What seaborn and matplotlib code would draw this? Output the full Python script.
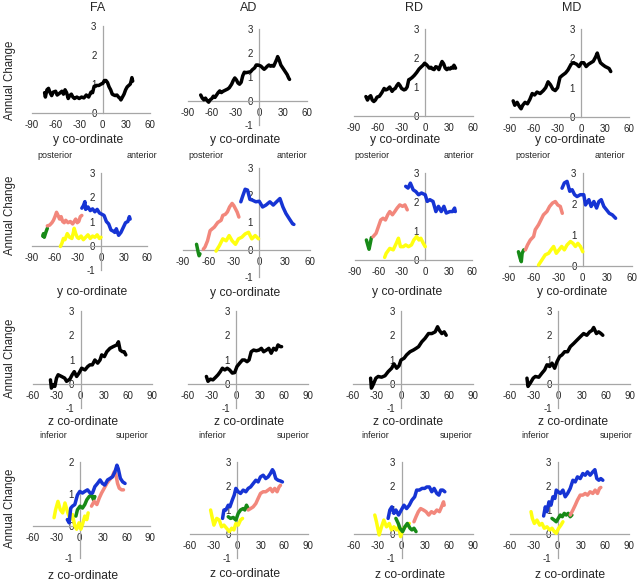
import matplotlib
matplotlib.use("Agg")
import matplotlib.pyplot as plt
import seaborn as sns

# ---- data (x = co-ordinate, y = annual change) ----
# row 1: y co-ordinate, whole tract (black)
r1_fa_x = [-74, -73, -71, -69, -67, -65, -63, -60, -58, -55, -52, -50, -48, -46, -44, -42, -40, -38, -36, -33,
           -30, -27, -24, -21, -18, -15, -13, -11, -8, -5, -2, 0, 2, 4, 6, 8, 10, 12, 14, 16, 18, 20, 22, 23, 25,
           27, 29, 31, 33, 35, 36, 37, 38]
r1_fa_y = [0.7, 0.55, 0.8, 0.85, 0.7, 0.6, 0.72, 0.75, 0.62, 0.68, 0.75, 0.65, 0.8, 0.7, 0.5, 0.6, 0.65, 0.55, 0.5,
           0.55, 0.5, 0.55, 0.52, 0.62, 0.55, 0.72, 0.7, 0.92, 0.95, 0.95, 1.0, 1.02, 1.12, 1.12, 1.05, 0.9, 0.8,
           0.65, 0.62, 0.6, 0.62, 0.55, 0.5, 0.45, 0.55, 0.65, 0.8, 0.9, 0.95, 1.0, 1.1, 1.22, 1.1]
r1_ad_x = [-74, -72, -70, -68, -66, -64, -62, -60, -58, -56, -54, -52, -50, -48, -46, -43, -40, -38, -35, -33, -31,
           -29, -27, -25, -23, -21, -19, -17, -14, -11, -9, -6, -4, -2, 0, 2, 4, 6, 8, 10, 12, 14, 16, 18, 20, 22,
           23, 25, 27, 29, 31, 33, 35, 37, 38]
r1_ad_y = [0.25, 0.12, 0.05, 0.12, 0.02, -0.05, 0.05, 0.1, 0.2, 0.15, 0.25, 0.35, 0.42, 0.35, 0.4, 0.45, 0.5, 0.55,
           0.7, 0.85, 0.96, 0.88, 0.75, 0.7, 0.78, 1.05, 1.2, 1.18, 1.2, 1.22, 1.3, 1.38, 1.5, 1.5, 1.48, 1.45,
           1.38, 1.32, 1.38, 1.45, 1.5, 1.45, 1.48, 1.45, 1.6, 1.75, 1.85, 1.7, 1.5, 1.4, 1.3, 1.2, 1.1, 0.95, 0.9]
r1_rd_x = [-75, -73, -71, -69, -67, -65, -63, -61, -58, -55, -52, -50, -48, -45, -42, -40, -38, -36, -34, -32, -30,
           -27, -25, -23, -21, -19, -17, -14, -11, -8, -5, -3, -1, 1, 3, 5, 7, 9, 11, 13, 15, 17, 19, 21, 23, 25,
           27, 29, 31, 33, 35, 36, 38]
r1_rd_y = [0.67, 0.55, 0.65, 0.7, 0.55, 0.5, 0.55, 0.65, 0.68, 0.8, 0.95, 0.9, 0.92, 1.0, 0.85, 0.92, 0.95, 1.05,
           1.12, 1.05, 0.95, 0.9, 0.92, 1.0, 1.25, 1.28, 1.32, 1.4, 1.5, 1.62, 1.7, 1.75, 1.82, 1.78, 1.72, 1.65,
           1.68, 1.62, 1.6, 1.7, 1.68, 1.6, 1.75, 1.88, 1.8, 1.65, 1.6, 1.65, 1.62, 1.68, 1.65, 1.75, 1.65]
r1_md_x = [-86, -84, -81, -78, -76, -74, -71, -68, -65, -62, -59, -56, -52, -48, -45, -42, -39, -36, -33, -30, -27,
           -24, -20, -17, -13, -10, -6, -3, 0, 3, 6, 9, 12, 15, 18, 20, 22, 24, 27, 30, 33, 35, 37]
r1_md_y = [0.55, 0.4, 0.5, 0.35, 0.28, 0.4, 0.5, 0.45, 0.6, 0.8, 0.75, 0.85, 0.8, 0.9, 1.0, 1.2, 1.1, 0.95, 0.9,
           1.0, 1.35, 1.42, 1.5, 1.6, 1.8, 1.85, 1.8, 1.72, 1.85, 1.85, 1.72, 1.8, 1.85, 1.9, 2.05, 2.18, 2.0,
           1.85, 1.78, 1.72, 1.68, 1.65, 1.55]

# row 2: y co-ordinate, by segment (green, pink, yellow, blue)
r2_fa_green_x = [-76, -75, -74, -72, -70]
r2_fa_green_y = [0.4, 0.5, 0.35, 0.55, 0.72]
r2_fa_pink_x = [-70, -67, -64, -62, -60, -58, -56, -54, -52, -50, -48, -46, -43, -40, -37, -35, -33, -31, -29, -27, -25]
r2_fa_pink_y = [0.82, 0.85, 0.95, 1.05, 1.2, 1.38, 1.25, 1.1, 1.2, 1.0, 0.95, 1.05, 0.95, 1.0, 0.9, 1.0, 1.1, 0.95,
                1.0, 1.2, 1.25]
r2_fa_yellow_x = [-53, -51, -49, -47, -44, -41, -38, -36, -35, -33, -31, -29, -26, -23, -20, -17, -14, -11, -8, -5, -2, 0]
r2_fa_yellow_y = [-0.03, 0.1, 0.3, 0.25, 0.5, 0.35, 0.3, 0.55, 0.72, 0.5, 0.35, 0.3, 0.4, 0.25, 0.35, 0.45, 0.3,
                  0.4, 0.35, 0.45, 0.3, 0.35]
r2_fa_blue_x = [-25, -23, -21, -20, -17, -14, -11, -8, -5, -2, 1, 4, 7, 10, 13, 16, 18, 20, 23, 26, 29, 32, 35, 37, 38]
r2_fa_blue_y = [1.55, 1.65, 1.82, 1.5, 1.6, 1.45, 1.52, 1.4, 1.5, 1.35, 1.3, 1.25, 1.0, 0.9, 0.65, 0.6, 0.55, 0.7,
                0.43, 0.55, 0.75, 0.95, 1.0, 1.2, 1.1]

r2_ad_green_x = [-74, -73, -72, -71, -70]
r2_ad_green_y = [0.2, 0.05, -0.1, -0.22, -0.15]
r2_ad_pink_x = [-66, -64, -61, -58, -55, -53, -49, -45, -43, -40, -37.5, -35, -32, -30, -28, -26, -24]
r2_ad_pink_y = [0.02, 0.1, 0.33, 0.7, 0.78, 0.83, 1.0, 1.08, 1.26, 1.3, 1.39, 1.57, 1.7, 1.62, 1.5, 1.38, 1.2]
r2_ad_yellow_x = [-51, -47, -43, -39, -35.5, -32, -28, -24.5, -20.5, -16.6, -12.6, -8.7, -4.7, -0.8]
r2_ad_yellow_y = [-0.05, 0.15, 0.4, 0.33, 0.52, 0.33, 0.2, 0.4, 0.46, 0.58, 0.64, 0.4, 0.52, 0.4]
r2_ad_blue_x = [-21.7, -19.7, -16.6, -13.8, -11, -8, -4, 0, 4, 8, 12.6, 16.6, 20.5, 24.5, 28, 31.6, 35.5, 39.5, 41]
r2_ad_blue_y = [1.76, 1.95, 2.22, 2.19, 1.85, 1.82, 1.76, 1.78, 1.57, 1.64, 1.76, 1.64, 1.76, 1.88, 1.57, 1.33,
                1.14, 0.95, 0.93]

r2_rd_green_x = [-75.4, -73, -72, -70, -69]
r2_rd_green_y = [0.69, 0.46, 0.37, 0.63, 0.77]
r2_rd_pink_x = [-67, -63, -60, -57, -54, -51, -48, -45.4, -42, -39, -36, -32.6, -29, -26, -23]
r2_rd_pink_y = [0.8, 0.92, 1.15, 1.38, 1.44, 1.38, 1.56, 1.67, 1.56, 1.67, 1.79, 1.9, 1.85, 1.9, 1.73]
r2_rd_yellow_x = [-52, -50, -45.4, -41, -37, -34.3, -31.7, -28, -25, -21.4, -17.6, -14.6, -11, -8, -5.6, -2.6, 0]
r2_rd_yellow_y = [0.09, 0.23, 0.4, 0.35, 0.58, 0.75, 0.46, 0.46, 0.52, 0.46, 0.52, 0.69, 0.81, 0.69, 0.75, 0.58, 0.46]
r2_rd_blue_x = [-25, -22, -19, -15.4, -12, -8.6, -4.7, 0, 2.6, 6, 10, 13.7, 17, 20.6, 24, 27, 31.7, 35, 37.7, 38.6]
r2_rd_blue_y = [2.54, 2.48, 2.65, 2.42, 2.36, 2.25, 2.31, 2.25, 2.02, 2.08, 2.02, 1.67, 1.85, 1.67, 1.85, 1.62,
                1.67, 1.67, 1.79, 1.67]

r2_md_green_x = [-78.5, -76.4, -75, -74, -72]
r2_md_green_y = [0.46, 0.25, 0.14, 0.41, 0.52]
r2_md_pink_x = [-70, -67.4, -64, -60, -58, -54, -51, -48, -43.7, -40.5, -37, -33.5, -30.6, -27.4, -25]
r2_md_pink_y = [0.52, 0.68, 0.84, 0.95, 1.17, 1.33, 1.49, 1.65, 1.76, 1.92, 2.03, 2.08, 1.97, 1.92, 1.7]
r2_md_yellow_x = [-54, -50, -45.8, -41.7, -38.8, -35.6, -32.3, -29, -25.7, -22.5, -19.2, -15, -11.9, -9, -6, -2.9, 0]
r2_md_yellow_y = [0.03, 0.19, 0.36, 0.41, 0.52, 0.63, 0.41, 0.52, 0.63, 0.52, 0.68, 0.79, 0.73, 0.63, 0.73, 0.63, 0.46]
r2_md_blue_x = [-25.3, -22.5, -19.2, -15.9, -13, -10, -7, -3, 1.2, 3.3, 7.4, 10.2, 13.5, 16.8, 19.6, 22.5, 25.7,
                29, 32.3, 36, 40]
r2_md_blue_y = [2.51, 2.68, 2.73, 2.41, 2.46, 2.3, 2.24, 2.3, 2.3, 1.97, 2.14, 1.92, 2.08, 1.87, 2.08, 2.14, 1.92,
                1.81, 1.7, 1.65, 1.54]

# row 3: z co-ordinate, whole tract (black)
r3_fa_x = [-38, -36.8, -34.6, -32.5, -30.4, -28.3, -24, -20, -17.7, -13.5, -10.6, -8, -5, -2, 1.3, 5.5, 9, 11.8,
           14.8, 18, 21.5, 24.5, 26.6, 30, 33, 37, 41, 45.6, 47.7, 49.8, 52.8, 55, 57]
r3_fa_y = [0.16, -0.18, -0.04, -0.11, 0.23, 0.37, 0.3, 0.23, 0.1, 0.19, 0.37, 0.5, 0.3, 0.44, 0.64, 0.57, 0.71,
           0.78, 0.78, 0.98, 0.85, 0.98, 1.19, 1.12, 1.32, 1.46, 1.53, 1.6, 1.73, 1.39, 1.32, 1.32, 1.19]
r3_ad_x = [-37, -35, -32, -28.8, -25.4, -22.5, -19.6, -17, -14, -11, -8, -4.6, -1.7, 1.2, 4.6, 8, 10.8, 13.8, 16.3,
           19, 22, 25.4, 28.8, 31.7, 34.6, 38, 41, 44, 47, 50, 52.5, 55.4, 57]
r3_ad_y = [0.3, 0.1, 0.19, 0.16, 0.27, 0.37, 0.5, 0.64, 0.57, 0.64, 0.57, 0.44, 0.46, 0.71, 0.85, 0.98, 0.98, 0.91,
           0.98, 1.32, 1.39, 1.36, 1.39, 1.46, 1.32, 1.39, 1.46, 1.26, 1.46, 1.39, 1.6, 1.53, 1.53]
r3_rd_x = [-38, -37, -34.8, -31.4, -28.5, -24.3, -20, -16, -11.7, -8.8, -5.4, -2.5, 0, 3.8, 7, 11.3, 15.5, 18.9,
           22, 26, 30, 34.4, 38.5, 42.7, 45.7, 48, 51, 54, 56.5]
r3_rd_y = [0.23, -0.18, -0.04, 0.23, 0.3, 0.27, 0.33, 0.5, 0.64, 0.82, 0.64, 0.74, 0.98, 1.05, 1.19, 1.32, 1.39,
           1.46, 1.53, 1.73, 1.87, 2.07, 2.07, 2.14, 2.35, 2.2, 2.07, 2.14, 2.0]
r3_md_x = [-38.8, -37.5, -34.6, -31, -28.3, -24, -20, -16.7, -13.8, -10.4, -7.5, -4.2, -1.25, 2, 5, 8.3, 12, 15.4,
           19.6, 23.75, 28, 32, 36, 39.6, 42.5, 44.6, 48, 50.8, 53.75, 56]
r3_md_y = [0.23, -0.11, 0.03, 0.23, 0.3, 0.27, 0.44, 0.57, 0.78, 0.71, 0.85, 0.64, 0.91, 1.12, 1.19, 1.32, 1.32,
           1.53, 1.66, 1.8, 1.94, 2.07, 2.0, 2.14, 2.2, 2.32, 2.07, 2.14, 2.07, 2.0]

# row 4: z co-ordinate, by segment (yellow, green, pink, blue)
r4_fa_yellow_x = [-33, -31, -28, -25, -22, -19, -16, -12.4, -9.4, -6.4, -4, -1, 1.3, 3.4, 6.4, 9, 10.7]
r4_fa_yellow_y = [0.26, 0.51, 0.77, 0.51, 0.41, 0.72, 0.46, 0.2, 0.36, 0.0, -0.1, 0.1, -0.1, 0.05, 0.31, 0.2, 0.41]
r4_fa_green_x = [-5, -3, 0.4, 3.4, 6.4, 9, 12, 15, 17.6, 19.3]
r4_fa_green_y = [0.31, 0.51, 0.62, 0.56, 0.67, 0.82, 0.92, 0.97, 0.82, 0.92]
r4_fa_pink_x = [15, 18.4, 21.9, 24.9, 27.9, 31.3, 34.7, 38, 41.6, 44, 46, 48.4, 50.6, 53.6, 56]
r4_fa_pink_y = [0.62, 0.77, 0.67, 0.87, 1.03, 1.18, 1.33, 1.44, 1.54, 1.69, 1.64, 1.33, 1.18, 1.13, 1.13]
r4_fa_blue_x = [-16, -13.7, -11.6, -9.4, -6.4, -3, 0, 3.4, 6.4, 9.9, 13.3, 16.3, 19.3, 22.7, 26, 29, 32, 35.6, 39,
                42, 45, 47.6, 49.3, 52, 55, 58]
r4_fa_blue_y = [0.2, 0.1, 0.56, 0.62, 0.67, 0.97, 1.08, 1.03, 1.08, 1.13, 1.03, 1.03, 1.23, 1.33, 1.44, 1.33, 1.28,
                1.44, 1.49, 1.54, 1.69, 1.9, 1.79, 1.49, 1.38, 1.33]

r4_ad_yellow_x = [-33.8, -32, -29.6, -26, -22.8, -19.9, -16.9, -13.5, -10, -7, -4.2, -1.7, 1.3, 4.2, 6.8]
r4_ad_yellow_y = [1.0, 0.72, 0.37, 0.65, 0.58, 0.3, 0.37, 0.24, 0.1, 0.24, 0.17, 0.44, 0.37, 0.58, 0.65]
r4_ad_green_x = [-11.4, -8.5, -5, -1.7, 1.3, 4.2, 7.6, 9.7, 11.8, 14]
r4_ad_green_y = [0.72, 0.65, 0.69, 0.58, 0.86, 1.0, 1.06, 1.0, 1.2, 1.06]
r4_ad_pink_x = [14, 17, 20.3, 23.7, 26.6, 29.6, 33, 36.3, 39.3, 42.2, 44.8, 47.7, 50.7, 53.2, 55]
r4_ad_pink_y = [1.0, 1.06, 1.13, 1.27, 1.48, 1.69, 1.76, 1.76, 1.83, 1.9, 1.76, 1.9, 1.76, 1.96, 2.03]
r4_ad_blue_x = [-18.6, -16.9, -14.4, -11.4, -9.3, -6.3, -3.8, -1.7, 1.3, 4.2, 7.6, 11, 14, 17, 20.3, 23.7, 26.6,
                29.6, 33, 36.3, 39.3, 42.2, 44.8, 46.5, 49, 52, 55, 57.5]
r4_ad_blue_y = [0.65, 1.0, 1.0, 1.2, 1.13, 1.41, 1.62, 1.9, 1.76, 1.69, 1.83, 1.76, 1.9, 1.96, 2.1, 2.24, 2.17,
                2.38, 2.45, 2.31, 2.38, 2.52, 2.68, 2.59, 2.31, 2.24, 2.21, 2.17]

r4_rd_yellow_x = [-33.8, -31.7, -28.3, -25.3, -22.4, -19, -15.6, -12.7, -9.7, -6.3, -3.8, -1.3, 1.3, 4.2, 7.2, 9.7]
r4_rd_yellow_y = [0.79, 0.51, -0.04, 0.3, 0.58, 0.3, 0.44, 0.17, 0.3, 0.17, 0.3, -0.11, 0.17, 0.3, 0.37, 0.44]
r4_rd_green_x = [-7.2, -4.2, -2.1, 1.3, 4.2, 7.2, 10.6, 13, 15.6, 18.2]
r4_rd_green_y = [0.65, 0.44, 0.24, 0.1, 0.3, 0.44, 0.24, 0.17, 0.24, 0.1]
r4_rd_pink_x = [15.6, 18.2, 21.1, 24, 27.5, 30.8, 34.2, 37.6, 41, 44.4, 47.7, 50.3, 52.8, 53.7]
r4_rd_pink_y = [0.51, 0.72, 0.93, 1.06, 1.0, 0.93, 0.79, 0.93, 0.86, 1.0, 0.93, 1.13, 1.34, 1.2]
r4_rd_blue_x = [-17, -14.8, -12.3, -9.7, -7.2, -3.8, -0.4, 3, 6.3, 9.7, 13, 16.5, 19, 22.4, 25.8, 29.2, 31.7, 35,
                38, 41, 44.4, 47, 49.4, 52, 54.5]
r4_rd_blue_y = [0.65, 1.0, 1.13, 0.86, 1.0, 0.79, 1.0, 1.2, 1.06, 1.2, 1.41, 1.55, 1.83, 1.83, 1.9, 1.9, 1.96,
                1.96, 1.76, 1.9, 1.69, 1.62, 1.83, 1.83, 1.76]

r4_md_yellow_x = [-33.5, -31.8, -29.3, -26, -22.6, -19.7, -16.8, -13.4, -10, -7.1, -4.2, -1.7, 1.3, 4.2, 6.7]
r4_md_yellow_y = [0.93, 0.65, 0.44, 0.58, 0.37, 0.44, 0.24, 0.3, 0.17, 0.24, 0.1, 0.03, 0.24, 0.37, 0.51]
r4_md_green_x = [-7.1, -4.2, -1.7, 0.8, 3.4, 5.9, 8.4, 10.9, 13.4, 15.9, 18]
r4_md_green_y = [0.65, 0.58, 0.51, 0.65, 0.79, 0.72, 0.86, 0.79, 0.86, 0.72, 0.79]
r4_md_pink_x = [16, 19.3, 22.2, 25, 28.5, 31.8, 34.8, 37.7, 41, 44.4, 47.3, 50.3, 52.8, 54.5]
r4_md_pink_y = [0.79, 1.0, 1.2, 1.41, 1.62, 1.62, 1.69, 1.62, 1.76, 1.69, 1.83, 1.69, 1.9, 1.94]
r4_md_blue_x = [-17.6, -15.5, -13.4, -10.9, -8.4, -5.9, -3.4, -1.7, 0.8, 3.4, 6.7, 9.6, 12.6, 15.9, 19.3, 22.2, 25,
                28.5, 31.8, 34.8, 37.7, 41, 44.4, 47, 49.4, 52, 54.5, 57]
r4_md_blue_y = [0.75, 1.13, 0.93, 1.34, 1.2, 1.55, 1.48, 1.83, 1.76, 1.69, 1.83, 1.55, 1.69, 1.9, 2.24, 2.17, 2.38,
                2.31, 2.52, 2.45, 2.59, 2.45, 2.59, 2.68, 2.31, 2.24, 2.31, 2.24]

measures = ["FA", "AD", "RD", "MD"]

BLACK = "#000000"
BLUE = "#1634d4"
PINK = "#f2877c"
YELLOW = "#ffff10"
GREEN = "#178a17"
AXIS_GREY = "#a6a6a6"
TXT = "#262626"

W, H = 640, 581

sns.set_style("white")
plt.rcParams["font.family"] = ["Liberation Sans", "DejaVu Sans"]
plt.rcParams["axes.unicode_minus"] = False

fig = plt.figure(figsize=(W / 100, H / 100), dpi=100)


def add_panel(box, xlim, ylim, series):
    # box is in pixels: left, right, top, bottom of the plotting range
    left, right, top, bottom = box
    ax = fig.add_axes([left / W, 1 - bottom / H, (right - left) / W, (bottom - top) / H])
    for xs, ys, col in series:
        sns.lineplot(x=xs, y=ys, ax=ax, color=col, lw=2.5, estimator=None, sort=False,
                     clip_on=False, zorder=3)
    ax.set_xlim(xlim)
    ax.set_ylim(ylim)
    ax.set_xticks(range(xlim[0], xlim[1] + 1, 30))
    ax.set_yticks(range(ylim[0], ylim[1] + 1))
    for side in ["top", "right"]:
        ax.spines[side].set_visible(False)
    for side in ["left", "bottom"]:
        ax.spines[side].set_position(("data", 0))
        ax.spines[side].set_color(AXIS_GREY)
        ax.spines[side].set_linewidth(0.9)
        ax.spines[side].set_zorder(1)
    ax.tick_params(axis="x", direction="in", length=2.5, width=0.8, color=AXIS_GREY,
                   labelsize=7, labelcolor=TXT, pad=5)
    ax.tick_params(axis="y", direction="out", length=2.5, width=0.8, color=AXIS_GREY,
                   labelsize=7, labelcolor=TXT, pad=2)
    ax.patch.set_visible(False)
    ax.set_xlabel("")
    ax.set_ylabel("")
    return ax


YX = (-90, 60)
ZX = (-60, 90)

# row 1
add_panel((32, 150, 26, 113), YX, (0, 3), [(r1_fa_x, r1_fa_y, BLACK)])
add_panel((188, 307, 29, 125), YX, (-1, 3), [(r1_ad_x, r1_ad_y, BLACK)])
add_panel((354, 473, 29, 116), YX, (0, 3), [(r1_rd_x, r1_rd_y, BLACK)])
add_panel((510, 629, 29, 117), YX, (0, 3), [(r1_md_x, r1_md_y, BLACK)])

# row 2
add_panel((32, 147, 173, 270), YX, (-1, 3), [
    (r2_fa_green_x, r2_fa_green_y, GREEN), (r2_fa_pink_x, r2_fa_pink_y, PINK),
    (r2_fa_yellow_x, r2_fa_yellow_y, YELLOW), (r2_fa_blue_x, r2_fa_blue_y, BLUE)])
add_panel((183, 310, 168, 277), YX, (-1, 3), [
    (r2_ad_green_x, r2_ad_green_y, GREEN), (r2_ad_pink_x, r2_ad_pink_y, PINK),
    (r2_ad_yellow_x, r2_ad_yellow_y, YELLOW), (r2_ad_blue_x, r2_ad_blue_y, BLUE)])
add_panel((355, 472, 173, 260), YX, (0, 3), [
    (r2_rd_green_x, r2_rd_green_y, GREEN), (r2_rd_pink_x, r2_rd_pink_y, PINK),
    (r2_rd_yellow_x, r2_rd_yellow_y, YELLOW), (r2_rd_blue_x, r2_rd_blue_y, BLUE)])
add_panel((509, 632, 173, 266), YX, (0, 3), [
    (r2_md_green_x, r2_md_green_y, GREEN), (r2_md_pink_x, r2_md_pink_y, PINK),
    (r2_md_yellow_x, r2_md_yellow_y, YELLOW), (r2_md_blue_x, r2_md_blue_y, BLUE)])

# row 3
add_panel((33, 152, 311, 408), ZX, (-1, 3), [(r3_fa_x, r3_fa_y, BLACK)])
add_panel((188, 308, 311, 408), ZX, (-1, 3), [(r3_ad_x, r3_ad_y, BLACK)])
add_panel((353, 473, 311, 408), ZX, (-1, 3), [(r3_rd_x, r3_rd_y, BLACK)])
add_panel((510, 630, 311, 408), ZX, (-1, 3), [(r3_md_x, r3_md_y, BLACK)])

# row 4
add_panel((33, 150, 462, 558), ZX, (-1, 2), [
    (r4_fa_yellow_x, r4_fa_yellow_y, YELLOW), (r4_fa_green_x, r4_fa_green_y, GREEN),
    (r4_fa_pink_x, r4_fa_pink_y, PINK), (r4_fa_blue_x, r4_fa_blue_y, BLUE)])
add_panel((190, 308, 462, 558), ZX, (-1, 3), [
    (r4_ad_yellow_x, r4_ad_yellow_y, YELLOW), (r4_ad_green_x, r4_ad_green_y, GREEN),
    (r4_ad_pink_x, r4_ad_pink_y, PINK), (r4_ad_blue_x, r4_ad_blue_y, BLUE)])
add_panel((354, 473, 462, 558), ZX, (-1, 3), [
    (r4_rd_yellow_x, r4_rd_yellow_y, YELLOW), (r4_rd_green_x, r4_rd_green_y, GREEN),
    (r4_rd_pink_x, r4_rd_pink_y, PINK), (r4_rd_blue_x, r4_rd_blue_y, BLUE)])
add_panel((510, 629, 462, 558), ZX, (-1, 3), [
    (r4_md_yellow_x, r4_md_yellow_y, YELLOW), (r4_md_green_x, r4_md_green_y, GREEN),
    (r4_md_pink_x, r4_md_pink_y, PINK), (r4_md_blue_x, r4_md_blue_y, BLUE)])


def label(x, y, s, size=8.5, **kw):
    fig.text(x / W, 1 - y / H, s, ha="center", va="center", fontsize=size, color=TXT, **kw)


# column titles
for name, cx in zip(measures, [98, 249, 414, 572]):
    label(cx, 8, name, size=9)

# row y-labels
for cy in [80, 215, 358, 508]:
    label(10, cy, "Annual Change", size=8.3, rotation=90)

# axis titles
for cx, cy in [(88, 140), (245, 140), (405, 140), (570, 140),
               (92, 292), (245, 293), (407, 292), (572, 292)]:
    label(cx, cy, "y co-ordinate", size=8.7)
for cx, cy in [(83, 422), (249, 422), (408, 422), (573, 422),
               (83, 576), (245, 574), (410, 575), (570, 575)]:
    label(cx, cy, "z co-ordinate", size=8.7)

# direction annotations
for px, ax_ in [(55, 142), (206, 292), (372, 459), (533, 610)]:
    label(px, 156, "posterior", size=6.5)
    label(ax_, 156, "anterior", size=6.5)
for ix, sx in [(53, 132), (212, 293), (375, 456), (535, 616)]:
    label(ix, 436, "inferior", size=6.5)
    label(sx, 435, "superior", size=6.5)

fig.savefig("out.png", dpi=100)
